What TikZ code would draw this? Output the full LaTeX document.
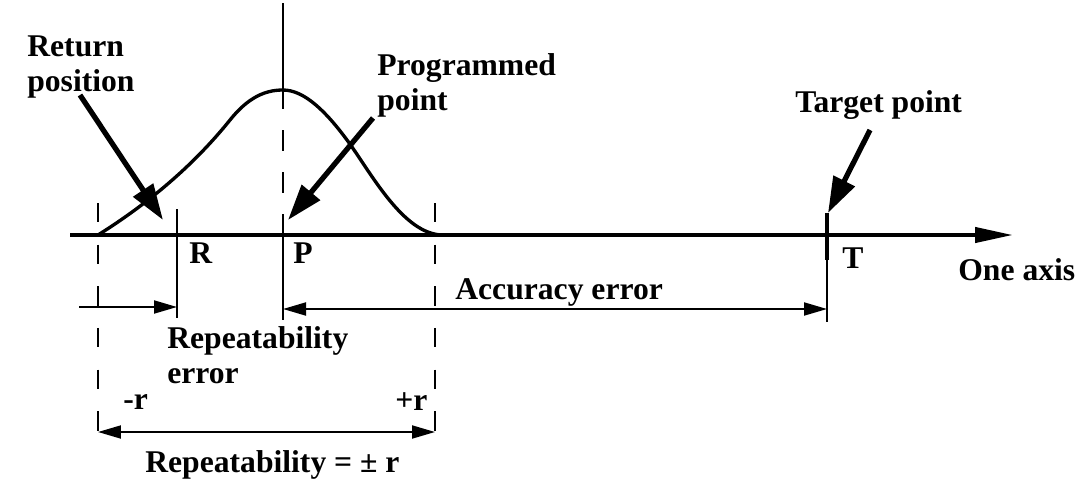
\documentclass[tikz,border=0pt]{standalone}
\usepackage{fontspec}
\setmainfont{Liberation Serif}
\usetikzlibrary{arrows.meta}
\tikzset{
    lbl/.style = {anchor=base west, inner sep=0pt, align=left,
        font=\fontsize{18}{19.7}\selectfont\bfseries},
    axisline/.style = {line width=2.4pt, -{Triangle[length=0.76cm,width=0.3cm]}},
    pointer/.style = {line width=3pt, -{Triangle[length=0.72cm,width=0.46cm]}},
    thinline/.style = {line width=1.1pt},
    guide/.style = {line width=1.1pt, dash pattern=on 11pt off 12.7pt},
    dimarrow/.style = {line width=1.1pt, >={Triangle[length=0.46cm,width=0.26cm]}}
}
\begin{document}
\begin{tikzpicture}[x=0.02cm,y=-0.02cm]
\useasboundingbox (0,0) rectangle (1091,490);
% axis and distribution curve
\coordinate (ax0) at (70,235); \coordinate (ax1) at (1013,235);
\draw[axisline] (ax0) -- (ax1);
\draw[line width=1.9pt] (98,235) .. controls (133,213) and (185,176) .. (230,120)
    .. controls (248,97.5) and (265,90) .. (283,90)
    .. controls (305,90) and (327,113) .. (347,140)
    .. controls (370,171) and (403,235) .. (443,235);
% vertical marks
\coordinate (p0) at (283,3); \coordinate (p1) at (283,105);
\coordinate (p2) at (283,235); \coordinate (p3) at (283,320);
\draw[thinline] (p0) -- (p1) (p2) -- (p3);
\draw[thinline, dash pattern=on 12pt off 12pt] (p2) -- (p1);
\coordinate (mr0) at (98,203); \coordinate (mr1) at (98,432);
\coordinate (pr0) at (435,203); \coordinate (pr1) at (435,432);
\draw[guide] (mr0) -- (mr1) (pr0) -- (pr1);
\coordinate (rp0) at (177,209); \coordinate (rp1) at (177,318);
\draw[thinline] (rp0) -- (rp1);
\coordinate (tp0) at (827,213); \coordinate (tp1) at (827,260); \coordinate (tp2) at (827,322);
\draw[line width=2.4pt] (tp0) -- (tp1);
\draw[thinline] (tp1) -- (tp2);
% dimension arrows
\coordinate (re0) at (79,307); \coordinate (re1) at (177,307);
\coordinate (ac0) at (283,309); \coordinate (ac1) at (827,309);
\draw[dimarrow,->] (re0) -- (re1);
\draw[dimarrow,<->] (ac0) -- (ac1);
\draw[dimarrow,<->] (mr1) -- (pr1);
% pointers
\coordinate (rt0) at (80,95); \coordinate (rt1) at (163,220);
\coordinate (pg0) at (373,118); \coordinate (pg1) at (288,220);
\coordinate (tg0) at (870,130); \coordinate (tg1) at (828,213);
\draw[pointer] (rt0) -- (rt1);
\draw[pointer] (pg0) -- (pg1);
\draw[pointer] (tg0) -- (tg1);
% labels
\node[lbl] (ret) at (27,91) {Return\\position};
\node[lbl] (prg) at (377,110) {Programmed\\point};
\node[lbl] (tgt) at (795,112) {Target point};
\node[lbl] (rl) at (189,263) {R};
\node[lbl] (pl) at (293,263) {P};
\node[lbl] (tl) at (842,268) {T};
\node[lbl] (axl) at (958,280) {One axis};
\node[lbl] (acc) at (455,299) {Accuracy error};
\node[lbl] (rep) at (167,383) {Repeatability\\error};
\node[lbl] (mrl) at (123,409) {-r};
\node[lbl] (prl) at (395,410) {+r};
\node[lbl] (rng) at (145,472) {Repeatability = ± r};
\end{tikzpicture}
\end{document}
